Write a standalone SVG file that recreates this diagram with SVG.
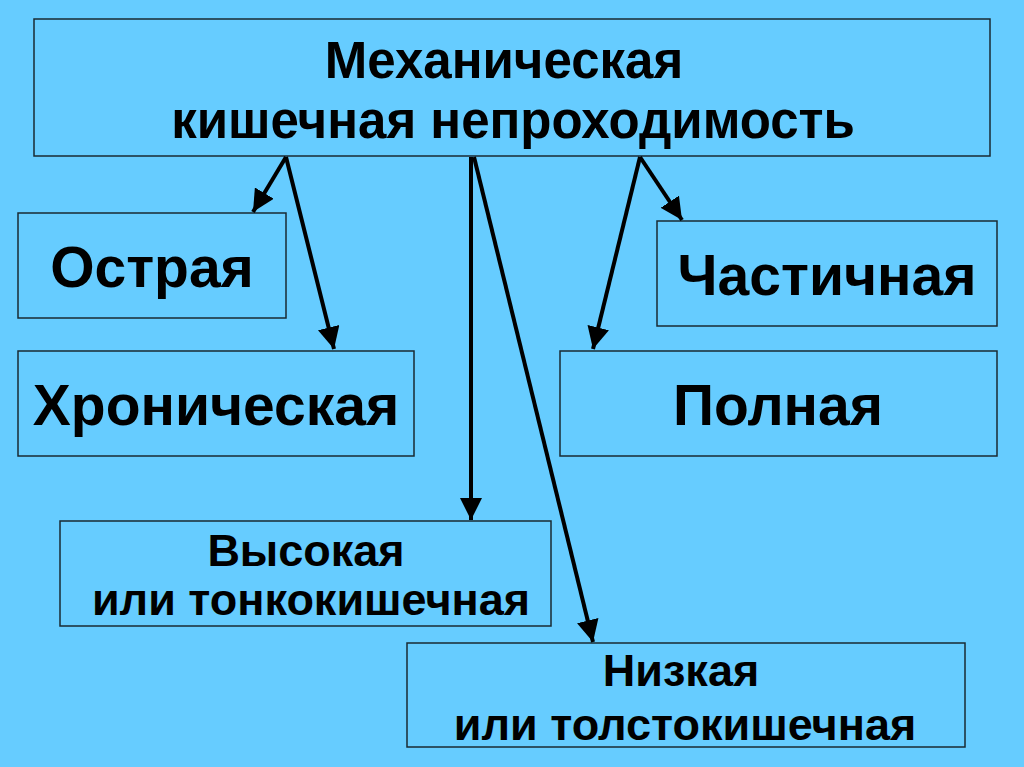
<svg xmlns="http://www.w3.org/2000/svg" width="1024" height="767" viewBox="0 0 1024 767">
<defs>
<marker id="ah" viewBox="0 0 10 10" refX="10" refY="5" markerWidth="5.5" markerHeight="5.5" orient="auto" markerUnits="strokeWidth">
<path d="M0,0 L10,5 L0,10 z" fill="#000"/>
</marker>
<style>
.box{fill:#66ccff;stroke:#1a2a33;stroke-width:1.5}
.t{font-family:"Liberation Sans",Arial,sans-serif;font-weight:bold;fill:#000;text-anchor:middle}
.big{font-size:57px}
.mid{font-size:51px}
.sm{font-size:45px}
.c{stroke:#000;stroke-width:4;fill:none;marker-end:url(#ah)}
</style>
</defs>
<rect width="1024" height="767" fill="#66ccff"/>
<g id="top"><rect class="box" x="34" y="19" width="956" height="137"/>
<text class="t mid" x="504" y="78">Механическая</text>
<text class="t mid" x="513" y="138">кишечная непроходимость</text></g>
<g id="ostraya"><rect class="box" x="18" y="213" width="268" height="105"/>
<text class="t big" x="152" y="287">Острая</text></g>
<g id="chron"><rect class="box" x="18" y="351" width="396" height="105"/>
<text class="t big" x="216" y="425">Хроническая</text></g>
<g id="chast"><rect class="box" x="657" y="221" width="340" height="105"/>
<text class="t big" x="827" y="295">Частичная</text></g>
<g id="polnaya"><rect class="box" x="560" y="351" width="437" height="105"/>
<text class="t big" x="778" y="425">Полная</text></g>
<g id="vys"><rect class="box" x="60" y="521" width="491" height="105"/>
<text class="t sm" x="306" y="566">Высокая</text>
<text class="t sm" x="311" y="615">или тонкокишечная</text></g>
<g id="niz"><rect class="box" x="407" y="643" width="558" height="104"/>
<text class="t sm" x="681" y="686">Низкая</text>
<text class="t sm" x="685" y="740">или толстокишечная</text></g>
<g id="connectors">
<line class="c" x1="286" y1="157" x2="253" y2="212"/>
<line class="c" x1="286" y1="157" x2="334" y2="349"/>
<line class="c" x1="640" y1="157" x2="682" y2="220"/>
<line class="c" x1="640" y1="157" x2="593" y2="349"/>
<line class="c" x1="471" y1="157" x2="471" y2="520"/>
<line class="c" x1="474" y1="157" x2="593" y2="642"/>
</g>
</svg>
